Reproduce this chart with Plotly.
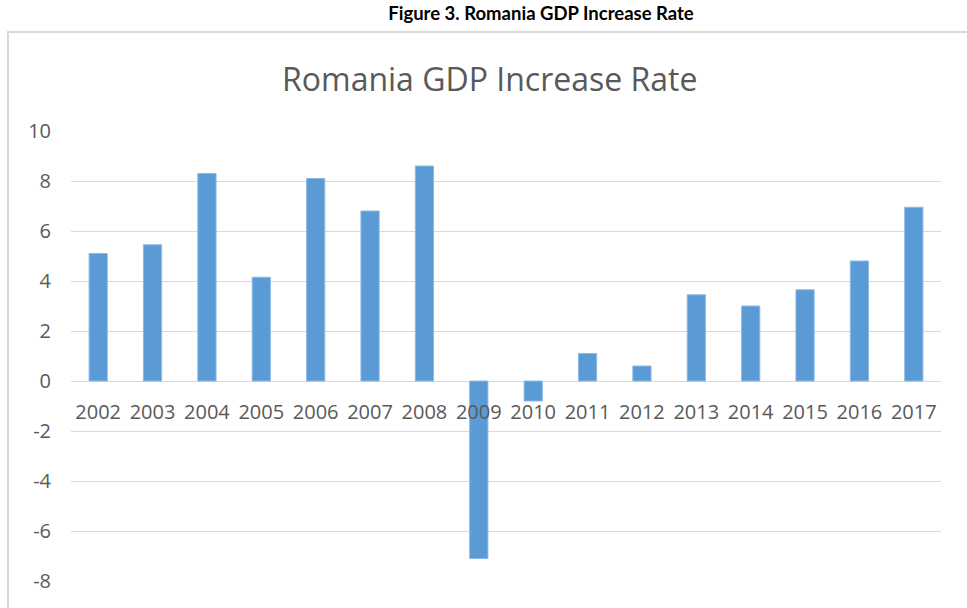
import plotly.graph_objects as go

years = ["2002", "2003", "2004", "2005", "2006", "2007", "2008", "2009",
         "2010", "2011", "2012", "2013", "2014", "2015", "2016", "2017"]
gdp_rate = [5.1, 5.45, 8.3, 4.15, 8.1, 6.8, 8.6, -7.1,
            -0.8, 1.1, 0.6, 3.45, 3.0, 3.65, 4.8, 6.95]
y_ticks = [-8, -6, -4, -2, 0, 2, 4, 6, 8, 10]

W, H = 967, 608
L, R, T, B = 71, 26, 131, 27
pw, ph = W - L - R, H - T - B

def px_x(x):
    return (x - L) / pw

def px_y(y):
    return (H - B - y) / ph

fig = go.Figure()
fig.add_trace(go.Bar(
    x=years, y=gdp_rate,
    marker=dict(color="#5B9BD5", line=dict(color="#8DB8E3", width=1)),
))

fig.update_layout(
    width=W, height=H,
    margin=dict(l=L, r=R, t=T, b=B),
    paper_bgcolor="white", plot_bgcolor="white",
    bargap=0.665,
    showlegend=False,
    title=dict(text="<b>Figure 3. Romania GDP Increase Rate</b>",
               x=541 / W, xanchor="center", y=1 - 14 / H, yanchor="middle",
               font=dict(family="Lato", size=18.5, color="black")),
    font=dict(family="Open Sans", color="#595959"),
)

fig.update_yaxes(
    range=[-8, 10], tickvals=y_ticks, ticktext=[str(v) for v in y_ticks],
    showgrid=True, gridcolor="#D9D9D9", gridwidth=1,
    zeroline=True, zerolinecolor="#D9D9D9", zerolinewidth=1,
    showline=False, ticks="", ticklabelstandoff=19,
    tickfont=dict(family="Open Sans", size=20, color="#595959"),
)
fig.update_xaxes(
    type="category", anchor="free", position=8 / 18,
    showline=False, showgrid=False, ticks="", ticklabelstandoff=17,
    tickfont=dict(family="Open Sans", size=20, color="#595959"),
)

# chart frame
fig.add_shape(type="rect", xref="paper", yref="paper",
              x0=px_x(8), x1=px_x(1000), y0=px_y(640), y1=px_y(32),
              line=dict(color="#D9D9D9", width=2), fillcolor="rgba(0,0,0,0)",
              layer="below")

fig.add_annotation(text="Romania GDP Increase Rate", xref="paper", yref="paper",
                   x=px_x(489), y=px_y(78), xanchor="center", yanchor="middle",
                   showarrow=False,
                   font=dict(family="Open Sans", size=32, color="#595959"))

fig.write_html("out.html")
